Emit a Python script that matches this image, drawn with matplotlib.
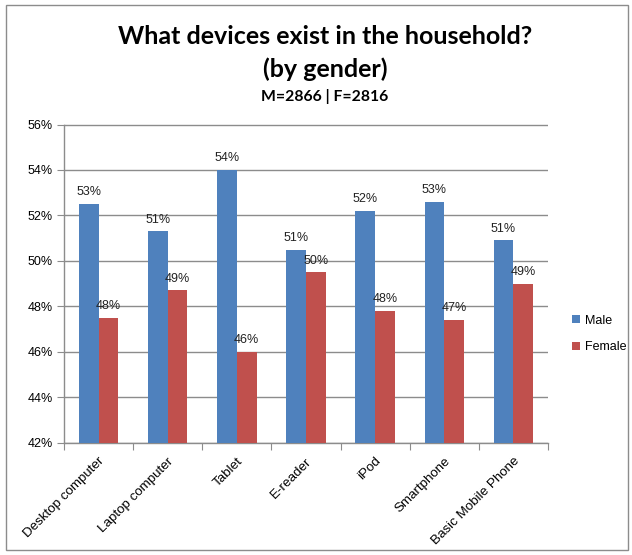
import matplotlib
matplotlib.use("Agg")
import matplotlib.pyplot as plt
import numpy as np
from matplotlib.patches import Rectangle

categories = ["Desktop computer", "Laptop computer", "Tablet", "E-reader", "iPod", "Smartphone", "Basic Mobile Phone"]
male = [52.5, 51.3, 54.0, 50.5, 52.2, 52.6, 50.9]
female = [47.5, 48.7, 46.0, 49.5, 47.8, 47.4, 49.0]
male_labels = ["53%", "51%", "54%", "51%", "52%", "53%", "51%"]
female_labels = ["48%", "49%", "46%", "50%", "48%", "47%", "49%"]
yticks = [42, 44, 46, 48, 50, 52, 54, 56]

plt.rcParams['font.family'] = ['Liberation Sans', 'DejaVu Sans']

W, H = 632, 555
fig = plt.figure(figsize=(W/100, H/100), dpi=100)
fig.patches.append(Rectangle((6/W, 5/H), (W-10)/W, (H-10)/H, transform=fig.transFigure,
                             fill=False, edgecolor="#8c8c8c", linewidth=1.0))

left, right, top, bottom = 64, 548, 124.5, 442.7
ax = fig.add_axes([left/W, 1-bottom/H, (right-left)/W, (bottom-top)/H])

x = np.arange(len(categories))
bw = 0.285
blue = "#4F81BD"
red = "#C0504D"
ax.bar(x - bw/2, [m - 42 for m in male], bw, bottom=42, color=blue, label="Male", zorder=3)
ax.bar(x + bw/2, [f - 42 for f in female], bw, bottom=42, color=red, label="Female", zorder=3)

for i in range(len(categories)):
    ax.annotate(male_labels[i], (x[i] - bw/2, male[i]), xytext=(0, 4), textcoords="offset points",
                ha="center", va="bottom", fontsize=9, color="#222222", zorder=4)
    ax.annotate(female_labels[i], (x[i] + bw/2, female[i]), xytext=(0, 4), textcoords="offset points",
                ha="center", va="bottom", fontsize=9, color="#222222", zorder=4)

ax.set_xlim(-0.5, len(categories) - 0.5)
ax.set_ylim(42, 56)
ax.set_yticks(yticks)
ax.set_yticklabels([f"{t}%" for t in yticks], fontsize=9)
ax.yaxis.grid(True, color="#8c8c8c", linewidth=1.0, zorder=0)
ax.set_axisbelow(True)

ax.set_xticks(np.arange(-0.5, len(categories), 1.0))
ax.set_xticklabels([])
ax.set_xticks(x, minor=True)
ax.set_xticklabels(categories, minor=True, rotation=45, ha="right", va="top",
                   rotation_mode="anchor", fontsize=9.6)
ax.tick_params(axis="x", which="minor", length=0, pad=9)
ax.tick_params(axis="x", which="major", length=5, color="#8c8c8c")
ax.tick_params(axis="y", length=5, color="#8c8c8c", pad=3)

for s in ["top", "right"]:
    ax.spines[s].set_visible(False)
for s in ["left", "bottom"]:
    ax.spines[s].set_color("#8c8c8c")
    ax.spines[s].set_linewidth(1.0)

tfont = ['Lato', 'DejaVu Sans']
cx = 325 / W
fig.text(cx, 1 - 37/H, "What devices exist in the household?", ha="center", va="center",
         fontsize=18, fontweight="bold", family=tfont)
fig.text(cx, 1 - 69/H, "(by gender)", ha="center", va="center", fontsize=18, fontweight="bold",
         family=tfont)
fig.text(cx, 1 - 96/H, "M=2866 | F=2816", ha="center", va="center", fontsize=11.3, fontweight="bold",
         family=tfont)

fig.legend(loc="center left", bbox_to_anchor=(561/W, 1 - 334/H), frameon=False, fontsize=9,
           handlelength=0.65, handleheight=0.65, handletextpad=0.35, labelspacing=1.2)

fig.savefig("out.png", dpi=100)
